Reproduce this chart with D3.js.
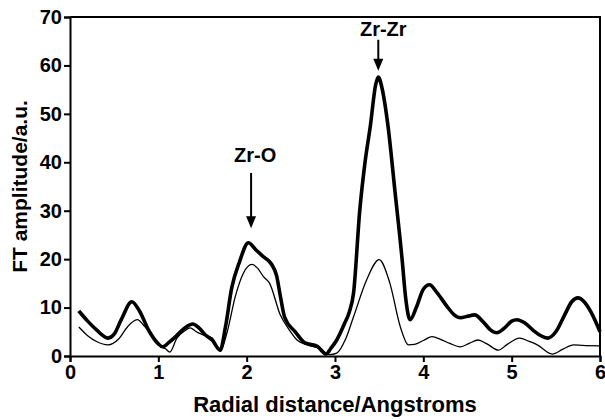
<!DOCTYPE html>
<html>
<head>
<meta charset="utf-8">
<script src="https://cdn.jsdelivr.net/npm/d3@7"></script>
<style>
  body { margin: 0; background: #fff; }
  text { font-family: Arial, "Liberation Sans", sans-serif; font-weight: bold; fill: #000; }
</style>
</head>
<body>
<div id="chart"></div>
<script>
/* radial distance (Angstrom) and FT amplitude, thick curve */
const thickR = [0.10,0.20,0.30,0.43,0.50,0.58,0.70,0.78,0.90,1.00,1.05,1.12,1.19,1.30,1.39,1.46,1.53,1.61,1.70,1.76,1.83,1.92,2.02,2.10,2.19,2.28,2.34,2.38,2.43,2.55,2.66,2.80,2.90,2.95,3.02,3.11,3.16,3.21,3.28,3.34,3.40,3.46,3.49,3.53,3.60,3.68,3.76,3.80,3.85,3.92,4.00,4.07,4.15,4.27,4.35,4.42,4.50,4.58,4.68,4.76,4.83,4.92,5.00,5.06,5.15,5.25,5.35,5.41,5.50,5.60,5.68,5.75,5.82,5.90,6.00];
const thickAmp = [9.3,7.2,5.4,3.7,4.5,7.5,11.2,9.5,5.0,2.5,1.9,2.8,3.9,5.8,6.6,5.8,4.4,3.3,1.2,6.0,14.0,19.5,23.4,22.0,20.5,19.0,16.5,12.5,8.0,5.0,2.7,2.0,0.4,1.5,3.3,6.8,9.0,13.0,30.0,40.0,47.5,56.0,57.6,55.5,47.5,33.8,19.9,12.0,7.5,10.0,13.8,14.7,13.2,10.2,8.5,7.9,8.2,8.5,7.0,5.4,4.8,5.8,7.2,7.5,6.8,5.2,4.0,3.7,5.0,8.5,11.2,12.0,11.2,9.0,5.0];

/* thin curve */
const thinR = [0.10,0.20,0.30,0.43,0.55,0.65,0.76,0.85,0.95,1.03,1.08,1.13,1.21,1.30,1.36,1.43,1.50,1.61,1.70,1.78,1.87,1.96,2.06,2.12,2.19,2.26,2.38,2.49,2.57,2.70,2.82,2.94,3.02,3.12,3.21,3.36,3.50,3.62,3.74,3.83,3.90,4.00,4.10,4.20,4.30,4.42,4.52,4.62,4.72,4.85,4.95,5.09,5.20,5.29,5.46,5.58,5.70,5.80,6.00];
const thinAmp = [6.0,4.2,3.0,2.3,3.5,6.0,7.5,6.0,3.5,1.9,1.5,0.8,3.7,5.2,5.8,5.0,4.4,3.7,1.0,5.0,12.2,17.0,18.9,18.2,16.4,15.0,8.5,5.2,3.3,2.2,1.6,0.3,0.6,3.5,8.1,15.8,19.9,15.1,6.0,2.3,2.4,3.2,4.0,3.4,2.6,1.9,2.6,3.3,2.5,1.2,2.4,3.7,3.0,2.3,0.4,1.4,2.3,2.2,2.1];

/* axis ticks */
const xTicks = [0,1,2,3,4,5,6];
const yTicks = [0,10,20,30,40,50,60,70];

/* peak labels: text, r, label baseline value, arrow start and tip values */
const peakLabels = ["Zr-O", "Zr-Zr"];
const peakR = [2.05, 3.49];
const peakTextAmp = [40.0, 66.0];
const peakArrowFrom = [37.8, 65.3];
const peakArrowTo = [26.4, 58.9];

const margin = {top: 17, right: 5, bottom: 63, left: 70};
const width = 605 - margin.left - margin.right;
const height = 419 - margin.top - margin.bottom;

const svg = d3.select("#chart")
  .append("svg")
  .attr("width", 605)
  .attr("height", 419)
  .append("g")
    .attr("transform", `translate(${margin.left},${margin.top})`);

const xScale = d3.scaleLinear().domain([0, 6]).range([0, width]);
const yScale = d3.scaleLinear().domain([0, 70]).range([height, 0]);

/* frame (top and right) */
svg.append("path")
  .attr("d", `M0,0H${width}V${height}`)
  .attr("fill", "none")
  .attr("stroke", "#000")
  .attr("stroke-width", 2);

/* axes */
const xAxis = svg.append("g")
  .attr("transform", `translate(0,${height})`)
  .call(d3.axisBottom(xScale).tickValues(xTicks).tickFormat(d3.format("d")).tickSizeOuter(0).tickSize(6).tickPadding(3));

const yAxis = svg.append("g")
  .call(d3.axisLeft(yScale).tickValues(yTicks).tickFormat(d3.format("d")).tickSizeOuter(0).tickSize(6).tickPadding(2));

[xAxis, yAxis].forEach(a => {
  a.select(".domain").attr("stroke-width", 2);
  a.selectAll(".tick line").attr("stroke-width", 2);
  a.selectAll(".tick text")
    .style("font-size", "20px")
    .style("font-family", "Arial, 'Liberation Sans', sans-serif")
    .style("font-weight", "bold");
});

/* axis titles */
svg.append("text")
  .attr("x", width / 2)
  .attr("y", height + 56)
  .style("text-anchor", "middle")
  .style("font-size", "22px")
  .text("Radial distance/Angstroms");

svg.append("text")
  .attr("transform", `translate(-43,${height / 2}) rotate(-90)`)
  .style("text-anchor", "middle")
  .style("font-size", "21px")
  .text("FT amplitude/a.u.");

/* curves */
const line = d3.line()
  .x(d => xScale(d[0]))
  .y(d => yScale(d[1]))
  .curve(d3.curveMonotoneX);

svg.append("path")
  .datum(d3.zip(thinR, thinAmp))
  .attr("fill", "none")
  .attr("stroke", "#000")
  .attr("stroke-width", 1.3)
  .attr("d", line);

svg.append("path")
  .datum(d3.zip(thickR, thickAmp))
  .attr("fill", "none")
  .attr("stroke", "#000")
  .attr("stroke-width", 3.6)
  .attr("stroke-linejoin", "round")
  .attr("d", line);

/* peak labels with arrows */
peakLabels.forEach((label, i) => {
  const px = xScale(peakR[i]);
  svg.append("text")
    .attr("x", px + (i === 0 ? 4 : 5))
    .attr("y", yScale(peakTextAmp[i]))
    .style("text-anchor", "middle")
    .style("font-size", "20px")
    .text(label);

  const y0 = yScale(peakArrowFrom[i]);
  const y1 = yScale(peakArrowTo[i]);
  svg.append("line")
    .attr("x1", px).attr("x2", px)
    .attr("y1", y0).attr("y2", y1 - 10)
    .attr("stroke", "#000")
    .attr("stroke-width", 2);
  svg.append("path")
    .attr("d", `M${px - 5},${y1 - 12}L${px + 5},${y1 - 12}L${px},${y1}Z`)
    .attr("fill", "#000");
});
</script>
</body>
</html>
